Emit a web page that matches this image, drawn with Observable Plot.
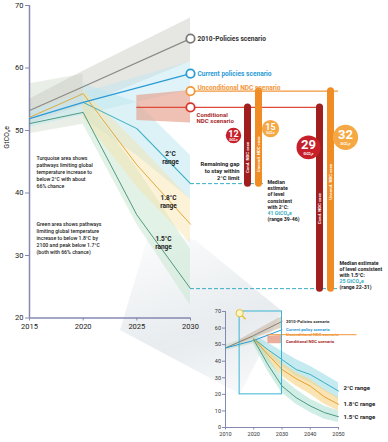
<!DOCTYPE html>
<html>
<head>
<meta charset="utf-8">
<script src="https://cdn.jsdelivr.net/npm/d3@7"></script>
<script src="https://cdn.jsdelivr.net/npm/@observablehq/plot@0.6"></script>
<style>
  html, body { margin: 0; padding: 0; background: #fff; }
  #wrap { position: relative; width: 388px; height: 442px; overflow: hidden; font-family: Roboto, Arial, sans-serif; }
  #wrap svg { position: absolute; overflow: visible; }
  #beam { position: absolute; left: 0; top: 0; width: 388px; height: 442px;
    background: linear-gradient(160deg, rgba(170,185,195,0) 45%, rgba(170,185,195,0.28) 70%, rgba(170,185,195,0.05) 85%);
    clip-path: polygon(150px 230px, 195px 240px, 282px 311px, 240px 394px, 120px 330px); filter: blur(6px); }
</style>
</head>
<body>
<div id="wrap"><div id="beam"></div></div>
<script>
// ---------------- DATA ----------------
const xTicks = [2015, 2020, 2025, 2030];
const yTicks = [20, 30, 40, 50, 60, 70];

const yearsA = [2015, 2020, 2030];
const policies2010 = [53.2, 57.0, 64.7];
const currentPolicies = [51.9, 54.5, 59.1];

const yearsP = [2015, 2020, 2025, 2030];
const path2C = [51.9, 54.5, 50.3, 41.5];
const path18C = [52.1, 55.9, 44.5, 35.0];
const path15C = [51.1, 52.9, 36.5, 24.7];

const uncondNDC = 56.3;
const condNDC = 53.7;
const level2C = 41.5;
const level15C = 24.7;

// bands
const washYears = [2015, 2020];
const washLo = [49.5, 51], washHi = [57.5, 59];
const grayBandYears = [2015, 2020, 2030];
const grayLo = [51, 54, 61], grayHi = [55, 59.5, 68];
const blueLo = [50.5, 52.5, 56.5], blueHi = [53, 56, 61];
const rangeYears = [2020, 2025, 2030];
const band2Lo = [52, 46, 39], band2Hi = [57.5, 54.5, 46];
const band18Lo = [52, 41, 32], band18Hi = [56.5, 48, 39];
const band15Lo = [51, 35, 22], band15Hi = [55.5, 44, 31];
const condYears = [2025, 2030];
const condLo = [51.6, 51.2], condHi = [55.6, 56.4];

const gapValues = [12, 15, 29, 32];
const gapLabels = ["12", "15", "29", "32"];

// inset data
const insetXTicks = [2010, 2020, 2030, 2040, 2050];
const insetYTicks = [0, 10, 20, 30, 40, 50, 60, 70];
const insHistYears = [2010, 2020, 2030];
const insPolicies2010 = [48, 55.5, 64];
const insCurrent = [48, 52.5, 59];
const insHistLo = [46.5, 50.5], insHistHi = [50, 55];
const insGrayYears = [2015, 2030];
const insGrayLo = [50.5, 60], insGrayHi = [53, 67];
const insPathYears = [2020, 2025, 2030, 2035, 2040, 2045, 2050];
const ins2C = [53.5, 47, 41, 35, 32, 27, 22];
const ins2CLo = [51, 43, 37, 31, 27, 22, 17], ins2CHi = [56, 51, 46, 41, 37, 32, 27];
const ins18C = [53.5, 44, 35, 29.5, 25, 18.5, 14];
const ins18CLo = [51, 40, 31, 25, 20, 14, 10], ins18CHi = [55, 47, 39, 33, 29, 23, 18];
const ins15C = [53, 38, 25, 18, 13, 9, 6.5];
const ins15CLo = [50, 34, 21, 14, 9, 5, 3], ins15CHi = [55, 43, 30, 23, 17, 13, 10];
const insUncond = 56, insCondLo = [50.6, 50.6], insCondHi = [55, 55.5];
const zoomBox = {x1: 2015, x2: 2030, y1: 20, y2: 70};

// ---------------- COLORS ----------------
const C = {
  axis: "#8589b0", gray: "#8a8a86", blue: "#2b9bd6", teal: "#3aaec2", yellow: "#e3a93a",
  green: "#4e9a82", red: "#e04a3a", orange: "#f2973a", darkred: "#a01e1e", barOrange: "#f08c24",
  circRed: "#c8202a", circOrange: "#f5a843", condText: "#a8282a", text: "#222"
};

const rows = (xs, ...cols) => xs.map((x, i) => ({x, a: cols[0]?.[i], b: cols[1]?.[i]}));

// ---------------- MAIN CHART ----------------
const mLeft = 29, mTop = 5, W = 388, H = 335, mBottom = 17.5;
const pxPerYear = 161 / 15;
const xMax = 2015 + (W - mLeft) / pxPerYear;
const X = px => 2030 + px / pxPerYear;  // offset in px right of 2030

function textLines(lines, o) {
  return lines.map(([t, c], i) => Plot.text([t], {
    x: o.x, y: o.y, dx: o.dx || 0, dy: i * o.lh,
    fill: c || C.text, fontSize: o.fs, fontWeight: o.fw || "bold",
    textAnchor: o.anchor || "start", lineAnchor: "middle"
  }));
}

const gapX = [43, 80, 118, 155];
const gapY = [49.2, 50.3, 47.3, 48.9];
const gapFill = [C.circRed, C.circOrange, C.circRed, C.circOrange];
const gapData = gapValues.map((v, i) => ({v, label: gapLabels[i], x: X(gapX[i]), y: gapY[i], fill: gapFill[i]}));
const gapSmall = gapData.filter(d => d.v < 20), gapBig = gapData.filter(d => d.v >= 20);

const bars = [
  {x: X(57), y1: condNDC, y2: level2C, c: C.darkred, t: "Cond. NDC case", ty: 45.7},
  {x: X(68), y1: uncondNDC, y2: level2C, c: C.barOrange, t: "Uncond. NDC case", ty: 46.2},
  {x: X(129), y1: condNDC, y2: level15C, c: C.darkred, t: "Cond. NDC case", ty: 37.5},
  {x: X(140), y1: uncondNDC, y2: level15C, c: C.barOrange, t: "Uncond. NDC case", ty: 41.8}
];

const area = (xs, lo, hi, fill, op) =>
  Plot.areaY(rows(xs, lo, hi), {x: "x", y1: "a", y2: "b", fill, fillOpacity: op});
const line = (xs, ys, stroke, w) =>
  Plot.line(rows(xs, ys), {x: "x", y: "a", stroke, strokeWidth: w});

const main = Plot.plot({
  width: W, height: H, marginLeft: mLeft, marginRight: 0, marginTop: mTop, marginBottom: mBottom,
  x: {domain: [2015, xMax], axis: null},
  y: {domain: [20, 70], axis: null},
  r: {type: "sqrt", domain: [0, 32], range: [0, 12.6]},
  style: {fontFamily: "Roboto, Arial, sans-serif", background: "transparent", overflow: "visible"},
  marks: [
    area(washYears, washLo, washHi, "#c9d6c4", 0.4),
    area(grayBandYears, grayLo, grayHi, "#c8c8c0", 0.45),
    area(grayBandYears, blueLo, blueHi, "#bfe7f2", 0.5),
    area(rangeYears, band2Lo, band2Hi, "#bfe8ee", 0.55),
    area(rangeYears, band15Lo, band15Hi, "#cbe8d2", 0.55),
    area(rangeYears, band18Lo, band18Hi, "#f6e2a8", 0.45),
    area(condYears, condLo, condHi, "#e5a08c", 0.65),
    // axes
    Plot.ruleX([2015], {y1: 20, y2: 70, stroke: C.axis, strokeWidth: 1.5}),
    Plot.ruleY([20], {x1: 2015, x2: 2030, stroke: C.axis, strokeWidth: 1.5}),
    Plot.axisY({ticks: yTicks, tickSize: 4, tickPadding: 2, fontSize: 7.5, stroke: C.axis, fill: "#222", label: null, tickFormat: d => String(d)}),
    Plot.axisX({ticks: xTicks, tickSize: 3, tickPadding: 3, fontSize: 7.5, stroke: C.axis, fill: "#222", label: null, tickFormat: d => String(d)}),
    Plot.text(["GtCO₂e"], {frameAnchor: "left", y: 47.1, dx: -23, rotate: -90, fontSize: 7, fill: "#222"}),
    // pathways
    line(yearsA, policies2010, C.gray, 1.2),
    line(yearsP.slice(1), path2C.slice(1), C.teal, 1.1),
    line(yearsP, path18C, C.yellow, 1),
    line(yearsP, path15C, C.green, 1),
    line(yearsA, currentPolicies, C.blue, 1.3),
    // scenario level lines
    Plot.ruleY([condNDC], {x1: 2025, x2: X(133), stroke: C.red, strokeWidth: 1.2}),
    Plot.ruleY([uncondNDC], {x1: 2030, x2: X(148), stroke: C.orange, strokeWidth: 1.2}),
    Plot.ruleY([level2C], {x1: 2030, x2: X(73), stroke: C.teal, strokeWidth: 1, strokeDasharray: "4,2"}),
    Plot.ruleY([level15C], {x1: 2030, x2: X(147), stroke: C.teal, strokeWidth: 1, strokeDasharray: "4,2"}),
    // end circles
    Plot.dot([
      {y: policies2010[2], c: "#7a7a7a"}, {y: currentPolicies[2], c: C.blue},
      {y: uncondNDC, c: C.orange}, {y: condNDC, c: "#d8342a"}
    ], {x: 2030, y: "y", r: 4.2, fill: "white", stroke: "c", strokeWidth: 1.8}),
    // gap bars
    Plot.ruleX(bars, {x: "x", y1: "y1", y2: "y2", stroke: "c", strokeWidth: 7, strokeLinecap: "round"}),
    Plot.text(bars, {x: "x", y: "ty", text: "t", rotate: -90, fill: "white", fontSize: 4.3, fontWeight: "bold"}),
    // gap circles
    Plot.dot(gapData, {x: "x", y: "y", r: "v", fill: "fill"}),
    Plot.text(gapSmall, {x: "x", y: "y", text: "label", dy: -1.8, fill: "white", fontWeight: "bold", fontSize: 9}),
    Plot.text(gapSmall, {x: "x", y: "y", text: () => "GtCO₂e", dy: 4.6, fill: "white", fontSize: 2.6, fontWeight: "bold"}),
    Plot.text(gapBig, {x: "x", y: "y", text: "label", dy: -2.2, fill: "white", fontWeight: "bold", fontSize: 13}),
    Plot.text(gapBig, {x: "x", y: "y", text: () => "GtCO₂e", dy: 6.8, fill: "white", fontSize: 3, fontWeight: "bold"}),
    // scenario labels
    Plot.text(["2010-Policies scenario"], {x: 2030, y: policies2010[2], dx: 7, textAnchor: "start", fontSize: 6.6, fontWeight: "bold", fill: "#333"}),
    Plot.text(["Current policies scenario"], {x: 2030, y: currentPolicies[2], dx: 7, textAnchor: "start", fontSize: 6.6, fontWeight: "bold", fill: C.blue}),
    Plot.text(["Unconditional NDC scenario"], {x: 2030, y: uncondNDC, dx: 7, dy: -3.5, textAnchor: "start", fontSize: 6.6, fontWeight: "bold", fill: C.orange}),
    ...textLines([["Conditional", C.condText], ["NDC scenario", C.condText]], {x: 2030, y: 52.5, dx: 6, lh: 6.4, fs: 6.1}),
    // range labels
    ...textLines([["2°C"], ["range"]], {x: 2030, y: 46.2, dx: -20, lh: 8, fs: 6.5, anchor: "middle"}),
    ...textLines([["1.8°C"], ["range"]], {x: 2030, y: 39.2, dx: -22, lh: 8, fs: 6.5, anchor: "middle"}),
    ...textLines([["1.5°C"], ["range"]], {x: 2030, y: 32.6, dx: -27, lh: 8, fs: 6.5, anchor: "middle"}),
    // left notes
    ...textLines([["Turquoise area shows"], ["pathways limiting global"], ["temperature increase to"], ["below 2°C with about"], ["66% chance"]],
      {x: 2015, y: 45.5, dx: 7, lh: 7, fs: 5.2, fw: "500"}),
    ...textLines([["Green area shows pathways"], ["limiting global temperature"], ["increase to below 1.8°C by"], ["2100 and peak below 1.7°C"], ["(both with 66% chance)"]],
      {x: 2015, y: 35.0, dx: 7, lh: 7, fs: 5.2, fw: "500"}),
    // right notes
    ...textLines([["Remaining gap"], ["to stay within"], ["2°C limit"]], {x: 2030, y: 44.56, dx: 49, lh: 7, fs: 5.8, anchor: "end"}),
    ...textLines([["Median"], ["estimate"], ["of level"], ["consistent"], ["with 2°C:"], ["41 GtCO₂e", C.teal], ["(range 39-46)"]],
      {x: 2030, y: 41.7, dx: 77, lh: 6.2, fs: 5.2}),
    ...textLines([["Median estimate"], ["of level consistent"], ["with 1.5°C:"], ["25 GtCO₂e", C.teal], ["(range 22-31)"]],
      {x: 2030, y: 28.7, dx: 149, lh: 6, fs: 5.2})
  ]
});
main.style.left = "0px"; main.style.top = "0px";
document.getElementById("wrap").appendChild(main);

// ---------------- INSET ----------------
const iW = 188, iH = 142;
const iPx = 113 / 40, iPy = 116 / 70;
const IX = px => 2030 + px / iPx;
const inset = Plot.plot({
  width: iW, height: iH, marginLeft: 25, marginRight: 50, marginTop: 11, marginBottom: 15,
  x: {domain: [2010, 2050], axis: null},
  y: {domain: [0, 70], axis: null},
  style: {fontFamily: "Roboto, Arial, sans-serif", background: "transparent", overflow: "visible"},
  marks: [
    area([2010, 2020], insHistLo, insHistHi, "#c9d9c8", 0.6),
    area(insGrayYears, insGrayLo, insGrayHi, "#c9b9a8", 0.6),
    area(insPathYears, ins2CLo, ins2CHi, "#9fdde8", 0.6),
    area(insPathYears, ins18CLo, ins18CHi, "#f7d68a", 0.65),
    area(insPathYears, ins15CLo, ins15CHi, "#a9e0cf", 0.55),
    area([2025, 2030], insCondLo, insCondHi, "#e59a84", 0.8),
    Plot.ruleX([2010], {y1: 0, y2: 70, stroke: C.axis, strokeWidth: 1}),
    Plot.ruleY([0], {x1: 2010, x2: 2050, stroke: C.axis, strokeWidth: 1}),
    Plot.axisY({ticks: insetYTicks, tickSize: 3, tickPadding: 1.5, fontSize: 5.5, stroke: C.axis, fill: "#333", label: null}),
    Plot.axisX({ticks: insetXTicks, tickSize: 2.5, tickPadding: 2, fontSize: 5.5, stroke: C.axis, fill: "#333", label: null, tickFormat: d => String(d)}),
    line(insHistYears, insPolicies2010, "#8a8070", 1),
    line(insHistYears, insCurrent, C.blue, 1),
    line(insPathYears, ins2C, C.teal, 1),
    line(insPathYears, ins18C, "#e8a030", 1),
    line(insPathYears, ins15C, C.green, 1),
    Plot.ruleY([insUncond], {x1: 2025, x2: IX(75), stroke: C.orange, strokeWidth: 1}),
    Plot.rect([zoomBox], {x1: "x1", x2: "x2", y1: "y1", y2: "y2", fill: "none", stroke: "#3ab4d2", strokeWidth: 1}),
    Plot.link([{x1: 2015, y1: 69, x2: 2015 + 6 / iPx, y2: 69 - 6 / iPy}], {x1: "x1", y1: "y1", x2: "x2", y2: "y2", stroke: "#e8c030", strokeWidth: 1.5}),
    Plot.dot([{x: 2015, y: 69}], {x: "x", y: "y", r: 3.6, fill: "#fff6c8", stroke: "#e8c030", strokeWidth: 1}),
    Plot.text(["2010-Policies scenario"], {x: 2030, y: 64, dx: 4, textAnchor: "start", fontSize: 4.2, fontWeight: "bold", fill: "#333"}),
    Plot.text(["Current policy scenario"], {x: 2030, y: 59.2, dx: 4, textAnchor: "start", fontSize: 4.2, fontWeight: "bold", fill: C.blue}),
    Plot.text(["Unconditional NDC scenario"], {x: 2030, y: 56.3, dx: 4, textAnchor: "start", fontSize: 4.2, fontWeight: "bold", fill: C.orange}),
    Plot.text(["Conditional NDC scenario"], {x: 2030, y: 52, dx: 4, textAnchor: "start", fontSize: 4.2, fontWeight: "bold", fill: C.condText}),
    Plot.text(["2°C range"], {x: 2050, y: 23.5, dx: 5, textAnchor: "start", fontSize: 6, fontWeight: "bold", fill: "#222"}),
    Plot.text(["1.8°C range"], {x: 2050, y: 13.9, dx: 5, textAnchor: "start", fontSize: 6, fontWeight: "bold", fill: "#222"}),
    Plot.text(["1.5°C range"], {x: 2050, y: 6, dx: 5, textAnchor: "start", fontSize: 6, fontWeight: "bold", fill: "#222"})
  ]
});
inset.style.left = "200px"; inset.style.top = "300px";
document.getElementById("wrap").appendChild(inset);
</script>
</body>
</html>
